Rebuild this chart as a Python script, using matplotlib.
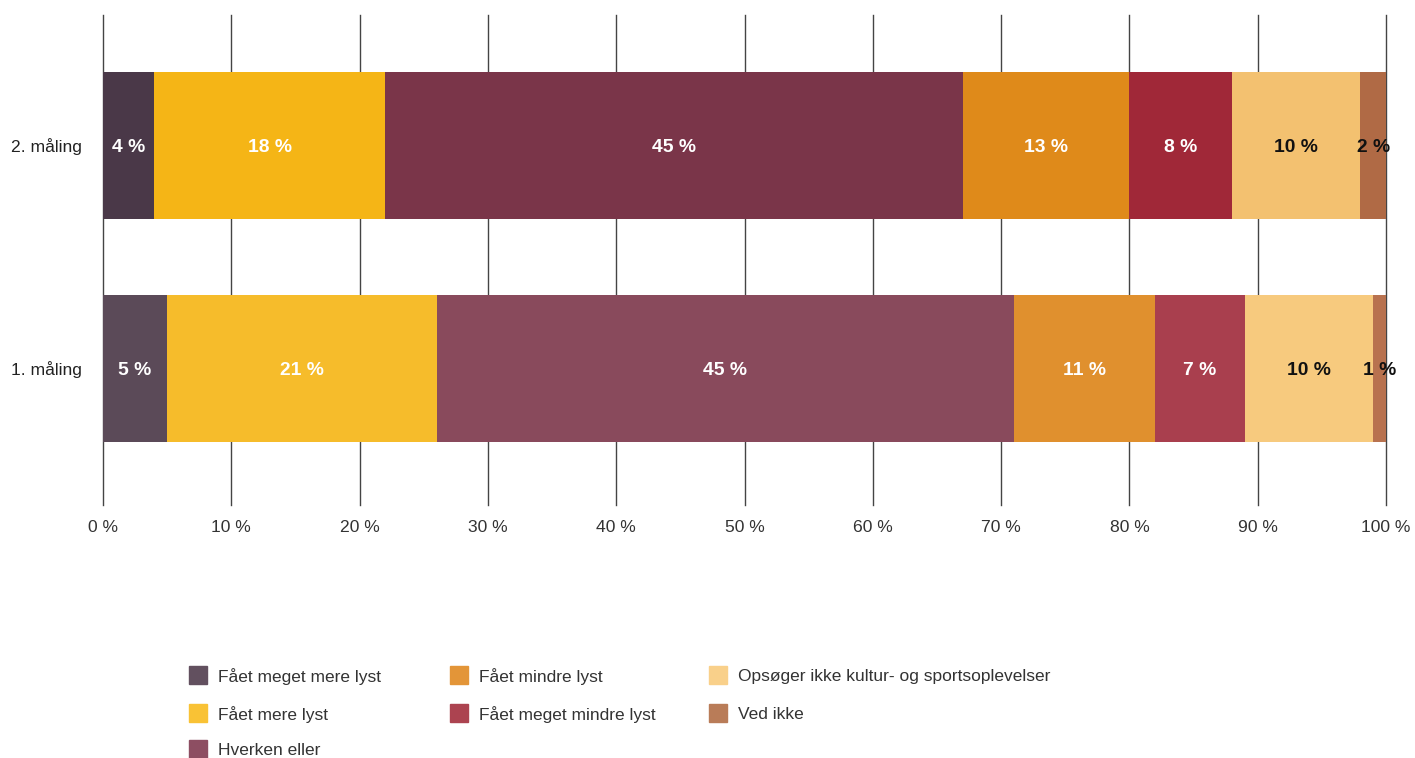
import matplotlib.pyplot as plt
from matplotlib.patches import Rectangle

plt.rcParams['font.family'] = ['Liberation Sans', 'DejaVu Sans']

# data
malinger = ['1. måling', '2. måling']
kategorier = ['Fået meget mere lyst', 'Fået mere lyst', 'Hverken eller',
              'Fået mindre lyst', 'Fået meget mindre lyst',
              'Opsøger ikke kultur- og sportsoplevelser', 'Ved ikke']
maaling1 = [5, 21, 45, 11, 7, 10, 1]
maaling2 = [4, 18, 45, 13, 8, 10, 2]
ticks = [0, 10, 20, 30, 40, 50, 60, 70, 80, 90, 100]

# colours (bar 2 is a bit darker than bar 1)
farver1 = ['#5b4a58', '#f6bc2b', '#894a5c', '#e0902e', '#a93f4e', '#f7ca7e', '#b8724f']
farver2 = ['#4a3848', '#f5b516', '#7a3549', '#df8a1a', '#a02838', '#f3c170', '#b06a45']
legend_farver = ['#62505f', '#f9c235', '#8d4e62', '#e39538', '#ac4350', '#f9d08a', '#b97c58']
tekst_farver = ['white', 'white', 'white', 'white', 'white', '#111111', '#111111']

W, H = 1415, 758
fig = plt.figure(figsize=(W / 100, H / 100), dpi=100)
ax = fig.add_axes([103 / W, 253 / H, 1283 / W, 490 / H])

for ypos, vals, farver in [(0, maaling1, farver1), (1, maaling2, farver2)]:
    left = 0
    for i, v in enumerate(vals):
        ax.barh(ypos, v, left=left, height=0.66, color=farver[i], zorder=3)
        ax.text(left + v / 2, ypos, f'{v} %', ha='center', va='center_baseline',
                fontsize=13.9, fontweight='bold', color=tekst_farver[i], zorder=4)
        left += v

ax.set_xlim(0, 100)
ax.set_ylim(-0.612, 1.585)
ax.set_xticks(ticks)
ax.set_xticklabels([f'{t} %' for t in ticks], fontsize=12.6, color='#333333')
ax.set_yticks([0, 1])
ax.set_yticklabels(malinger, fontsize=12.6, color='#222222')
ax.tick_params(axis='x', length=0, pad=11)
ax.tick_params(axis='y', length=0, pad=15)
ax.grid(axis='x', color='#444444', linewidth=1, zorder=0)
for line in ax.get_xgridlines():
    line.set_clip_on(False)
for s in ax.spines.values():
    s.set_visible(False)

# legend, three columns
kol_x = [189, 450, 709]
raekke_y = [675, 713, 749]
plads = [(0, 0), (0, 1), (0, 2), (1, 0), (1, 1), (2, 0), (2, 1)]
for i, navn in enumerate(kategorier):
    k, r = plads[i]
    x, y = kol_x[k], raekke_y[r]
    fig.add_artist(Rectangle((x / W, 1 - (y + 9) / H), 18 / W, 18 / H,
                             transform=fig.transFigure, color=legend_farver[i]))
    fig.text((x + 29) / W, 1 - y / H, navn, ha='left', va='center_baseline',
             fontsize=12.5, color='#333333')

fig.savefig('out.png', dpi=100)
